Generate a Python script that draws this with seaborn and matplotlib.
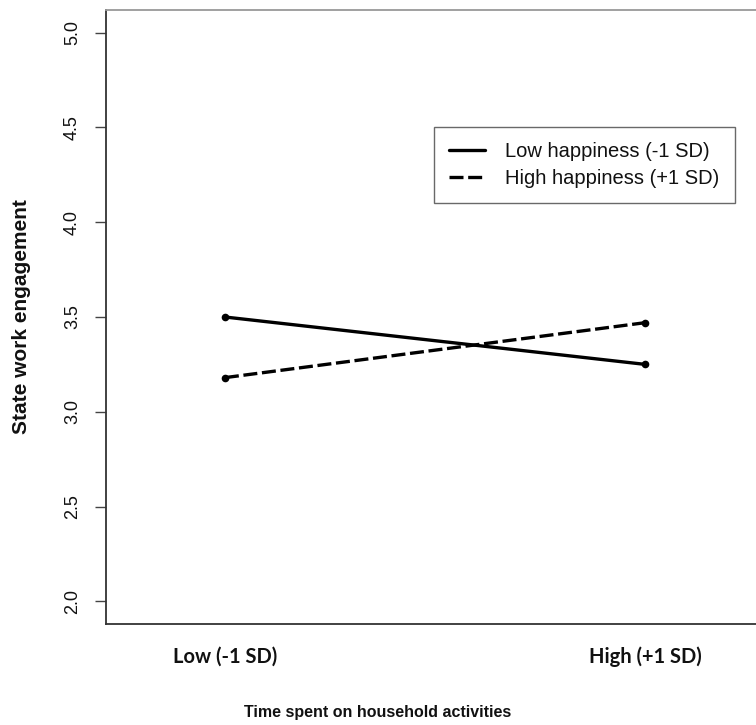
import pandas as pd
import matplotlib
matplotlib.use('Agg')
import matplotlib.pyplot as plt
import seaborn as sns
from matplotlib.lines import Line2D

# Data
time_levels = ['Low (-1 SD)', 'High (+1 SD)']
low_happiness = [3.50, 3.25]
high_happiness = [3.18, 3.47]
group_names = ['Low happiness (-1 SD)', 'High happiness (+1 SD)']
y_ticks = [2.0, 2.5, 3.0, 3.5, 4.0, 4.5, 5.0]

df = pd.DataFrame({
    'time': time_levels * 2,
    'engagement': low_happiness + high_happiness,
    'group': [group_names[0]] * 2 + [group_names[1]] * 2,
})

sns.set_style('white')
plt.rcParams['font.family'] = ['Liberation Sans', 'DejaVu Sans']
plt.rcParams['text.color'] = '#111111'
plt.rcParams['axes.labelcolor'] = '#111111'

fig = plt.figure(figsize=(7.56, 7.25), dpi=100)
ax = fig.add_axes([106 / 756, 101 / 725, 658 / 756, 614 / 725])

sns.lineplot(data=df, x='time', y='engagement', hue='group', style='group',
             palette=['black', 'black'], dashes={group_names[0]: '', group_names[1]: (4.2, 1.4)},
             markers={group_names[0]: 'o', group_names[1]: 'o'}, markersize=5.5,
             markeredgewidth=0, linewidth=2.4, sort=False, ax=ax, legend=False)

ax.set_xlim(-0.283, 1.283)
ax.set_ylim(1.88, 5.12)
ax.set_yticks(y_ticks)
ax.set_yticklabels([f'{v:.1f}' for v in y_ticks], rotation=90, va='center',
                   fontsize=13, color='#111111')
ax.tick_params(axis='y', length=8, width=1, color='#444444', pad=10, left=True)
ax.set_xticks([0, 1])
ax.set_xticklabels(time_levels, fontsize=14.5, fontweight='bold',
                   family=['Lato', 'DejaVu Sans'], color='#111111')
ax.tick_params(axis='x', length=0, pad=16)

for side in ['left', 'bottom']:
    ax.spines[side].set_color('#333333')
    ax.spines[side].set_linewidth(1.3)
ax.spines['top'].set_color('#999999')
ax.spines['top'].set_linewidth(1.3)
ax.spines['right'].set_visible(False)

ax.set_xlabel('Time spent on household activities', fontsize=11.5, fontweight='bold', va='center')
ax.xaxis.set_label_coords((378 - 106) / 658, (624 - 713) / 614)
ax.set_ylabel('State work engagement', fontsize=15, fontweight='bold', labelpad=24)

handles = [Line2D([], [], color='black', lw=2.4, linestyle='-'),
           Line2D([], [], color='black', lw=2.4, linestyle=(0, (4.2, 1.4)))]
leg = ax.legend(handles, group_names, loc='upper left',
                bbox_to_anchor=((434 - 106) / 658, (624 - 127) / 614),
                borderaxespad=0, fontsize=14.5, frameon=True, fancybox=False,
                handlelength=1.8, borderpad=0.75, labelspacing=0.4, handletextpad=1.0)
leg.get_frame().set_edgecolor('#444444')
leg.get_frame().set_linewidth(1.0)

fig.savefig('out.png', dpi=100)
